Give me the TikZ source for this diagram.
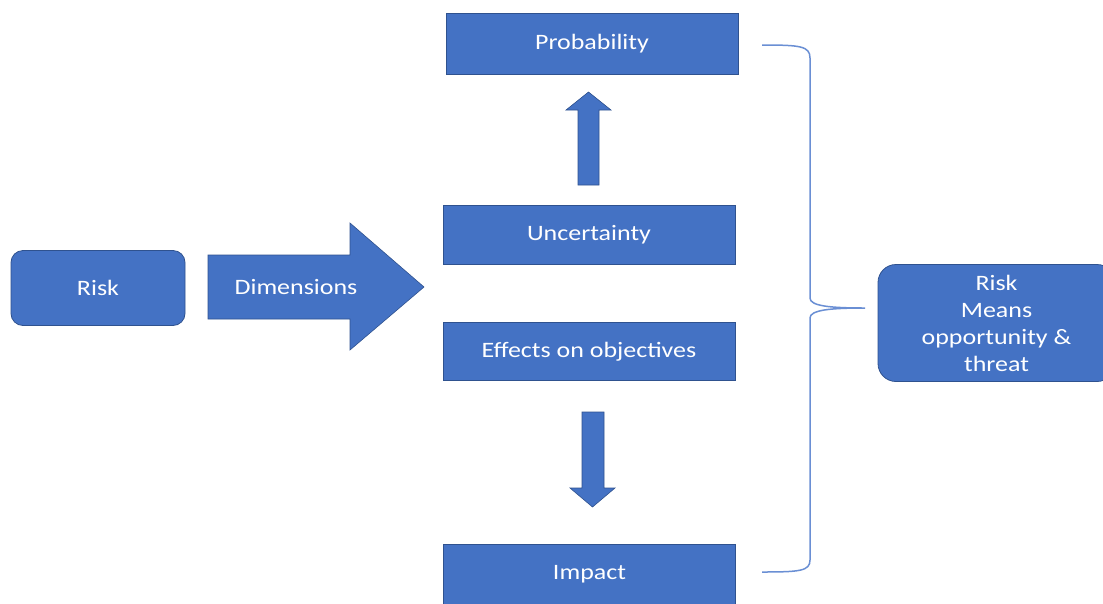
\documentclass[tikz,border=0pt]{standalone}
\usepackage{fontspec}
\setmainfont{Carlito}[FakeStretch=1.18]
\definecolor{officeblue}{HTML}{4472C4}
\definecolor{officeedge}{HTML}{2F528F}
\definecolor{bracecol}{HTML}{6A8FD4}
\begin{document}
\begin{tikzpicture}[x=1pt,y=-1pt,
  every node/.style={font=\fontsize{22}{27}\selectfont, text=white, inner sep=0pt},
  box/.style={draw=officeedge, line width=0.8pt, fill=officeblue, rectangle, minimum width=292pt},
  roundbox/.style={draw=officeedge, line width=0.8pt, fill=officeblue, rectangle, rounded corners=#1},
  blockarrow/.style={draw=officeedge, line width=0.6pt, fill=officeblue, line join=miter},
  bracestyle/.style={draw=bracecol, line width=1.5pt}]
  \clip (0,0) rectangle (1103,603);
  \fill[white] (0,0) rectangle (1103,603);

  % left box and the Dimensions arrow
  \node[roundbox=12pt, minimum width=174pt, minimum height=75pt] (risk) at (98,288) {Risk};
  \draw[blockarrow] (208,255) -- (350,255) -- (350,223) -- (424,287) -- (350,350) -- (350,319) -- (208,319) -- cycle;
  \node (dim) at (296,287) {Dimensions};

  % central column
  \node[box, minimum height=61pt] (prob) at (592,43.5) {Probability};
  \node[box, minimum height=59pt] (unc) at (589,234.5) {Uncertainty};
  \node[box, minimum height=58pt] (eff) at (589,351.5) {Effects on objectives};
  \node[box, minimum height=60pt] (imp) at (589.5,574.5) {Impact};

  % upward arrow from Uncertainty to Probability
  \draw[blockarrow] (578,185) -- (578,110) -- (566,110) -- (588.5,92) -- (611,110) -- (599,110) -- (599,185) -- cycle;
  % downward arrow from Effects to Impact
  \draw[blockarrow] (582,412) -- (604,412) -- (604,488) -- (615,488) -- (592.5,507) -- (570,488) -- (582,488) -- cycle;

  % right box
  \node[roundbox=18pt, minimum width=237pt, minimum height=117pt, align=center] (means) at (996.5,323)
    {Risk\\Means\\opportunity \&\\threat};

  % curly brace grouping the column
  \coordinate (btop) at (762,45);
  \coordinate (btip) at (865,308);
  \coordinate (bbot) at (762,572);
  \draw[bracestyle] (btop) .. controls (800,45) and (810,46) .. (810,58)
    -- (810,298) .. controls (810,306) and (830,308) .. (btip)
    .. controls (830,308) and (810,310) .. (810,318)
    -- (810,560) .. controls (810,571) and (800,572) .. (bbot);
\end{tikzpicture}
\end{document}
